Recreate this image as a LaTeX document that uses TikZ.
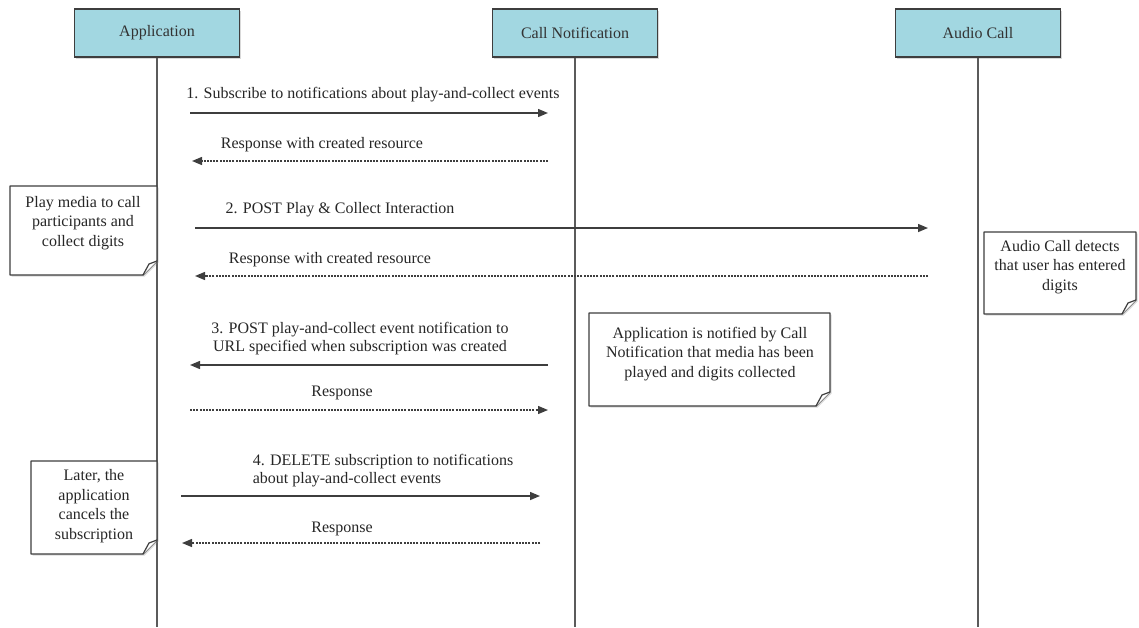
\documentclass[tikz,border=0pt]{standalone}
\usepackage{fontspec}
\setmainfont{Liberation Serif}
\usetikzlibrary{arrows.meta,shadows}
\definecolor{hdr}{RGB}{162,215,225}
\definecolor{ln}{RGB}{62,62,62}
\tikzset{
  hdrbox/.style={draw=ln, line width=1.2pt, fill=hdr, minimum width=165pt, minimum height=48pt,
    inner sep=0pt, font=\fontsize{16}{19}\selectfont, text=black!80,
    drop shadow={shadow xshift=1.5pt, shadow yshift=-1.5pt, opacity=0.3}},
  life/.style={draw=ln!85, line width=1.5pt},
  msg/.style={draw=ln, line width=1.4pt, -{Triangle[length=10pt,width=8pt]}},
  reply/.style={draw=ln, line width=1.3pt, dash pattern=on 2pt off 1.2pt, -{Triangle[length=10pt,width=8pt]}},
  lbl/.style={font=\fontsize{16}{18}\selectfont, text=black!85, inner sep=0pt},
  notetxt/.style={lbl, align=center, font=\fontsize{16}{19.5}\selectfont},
  noteframe/.style={draw=ln, line width=1.2pt, fill=white, line join=round},
}
\newcommand\notepath[4]{%
  \draw[noteframe, drop shadow={shadow xshift=1.5pt, shadow yshift=-1.5pt, opacity=0.3}]
    (#1,#2) -- (#3,#2) -- (#3,#4-14) -- (#3-14,#4) -- (#1,#4) -- cycle;
  \draw[noteframe] (#3,#4-14) .. controls (#3-4,#4-13) .. (#3-8,#4-11) -- (#3-14,#4);
}
\begin{document}
\begin{tikzpicture}[x=1pt,y=-1pt]
\useasboundingbox (0,0) rectangle (1139,627);
% lifeline ends
\coordinate (appE) at (157,627);
\coordinate (cnE) at (575,627);
\coordinate (acE) at (978,627);
% headers
\node[hdrbox] (app) at (157,33) {Application};
\node[hdrbox] (cn) at (575,33) {Call Notification};
\node[hdrbox] (ac) at (978,33) {Audio Call};
\draw[life] (app.south) -- (appE);
\draw[life] (cn.south) -- (cnE);
\draw[life] (ac.south) -- (acE);
% message end points
\coordinate (m1s) at (190,113); \coordinate (m1e) at (548,113);
\coordinate (r1s) at (548,161); \coordinate (r1e) at (192,161);
\coordinate (m2s) at (195,228); \coordinate (m2e) at (928,228);
\coordinate (r2s) at (928,276); \coordinate (r2e) at (195,276);
\coordinate (m3s) at (548,365); \coordinate (m3e) at (190,365);
\coordinate (r3s) at (190,410); \coordinate (r3e) at (548,410);
\coordinate (m4s) at (181,496); \coordinate (m4e) at (540,496);
\coordinate (r4s) at (540,543); \coordinate (r4e) at (182,543);
% messages
\draw[msg] (m1s) -- (m1e);
\draw[reply] (r1s) -- (r1e);
\draw[msg] (m2s) -- (m2e);
\draw[reply] (r2s) -- (r2e);
\draw[msg] (m3s) -- (m3e);
\draw[reply] (r3s) -- (r3e);
\draw[msg] (m4s) -- (m4e);
\draw[reply] (r4s) -- (r4e);
% labels
\node[lbl] (l1) at (373,95) {1. Subscribe to notifications about play-and-collect events};
\node[lbl] (l1r) at (322,145) {Response with created resource};
\node[lbl] (l2) at (340,210) {2. POST Play \& Collect Interaction};
\node[lbl] (l2r) at (330,260) {Response with created resource};
\node[lbl, align=center] (l3) at (360,339) {3. POST play-and-collect event notification to\\URL specified when subscription was created};
\node[lbl] (l3r) at (342,393) {Response};
\node[lbl, align=left] (l4) at (383,471) {4. DELETE subscription to notifications\\about play-and-collect events};
\node[lbl] (l4r) at (342,529) {Response};
% notes
\notepath{10}{186}{157}{275}
\node[notetxt] (n1) at (83,223) {Play media to call\\participants and\\collect digits};
\notepath{984}{232}{1136}{314}
\node[notetxt] (n2) at (1060,267) {Audio Call detects\\that user has entered\\digits};
\notepath{589}{313}{830}{406}
\node[notetxt] (n3) at (710,354) {Application is notified by Call\\Notification that media has been\\played and digits collected};
\notepath{31}{461}{157}{554}
\node[notetxt] (n4) at (94,506) {Later, the\\application\\cancels the\\subscription};
\end{tikzpicture}
\end{document}
